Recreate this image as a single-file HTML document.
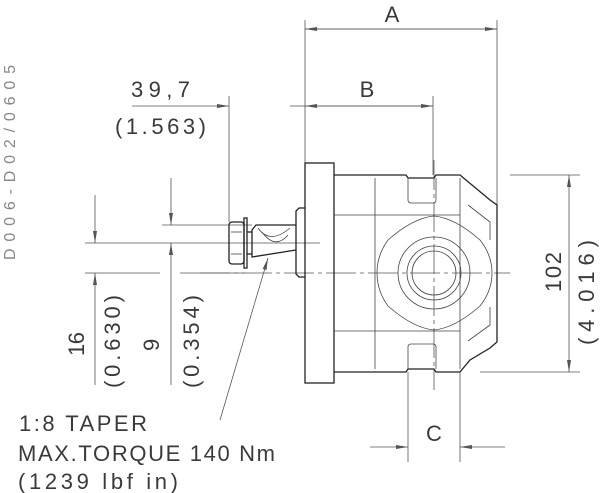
<!DOCTYPE html>
<html><head><meta charset="utf-8"><style>
html,body{margin:0;padding:0;background:#fff}
svg{display:block}
text{font-family:"Liberation Sans","DejaVu Sans",sans-serif;fill:#3a3a3a}
</style></head><body>
<svg width="600" height="493" viewBox="0 0 600 493" xmlns="http://www.w3.org/2000/svg">
<defs>
<marker id="ar" viewBox="0 0 12 6" refX="12" refY="3" markerWidth="12" markerHeight="6" orient="auto" markerUnits="userSpaceOnUse">
<path d="M0,1 L12,3 L0,5 Z" fill="#555"/>
</marker>
</defs>
<g stroke="#555" stroke-width="0.8" fill="none">
<line x1="305" y1="20" x2="305" y2="163"/>
<line x1="497" y1="20" x2="497" y2="205"/>
<line x1="433" y1="96" x2="433" y2="175"/>
<line x1="229" y1="96" x2="229" y2="222"/>
<line x1="305" y1="29" x2="497" y2="29" marker-end="url(#ar)"/>
<line x1="497" y1="29" x2="305" y2="29" marker-end="url(#ar)"/>
<line x1="305" y1="106" x2="433" y2="106" marker-end="url(#ar)"/>
<line x1="433" y1="106" x2="305" y2="106" marker-end="url(#ar)"/>
<line x1="132" y1="106" x2="229" y2="106" marker-end="url(#ar)"/>
<line x1="290" y1="106" x2="305" y2="106"/>
<line x1="510" y1="175" x2="580" y2="175"/>
<line x1="480" y1="372" x2="580" y2="372"/>
<line x1="569" y1="273" x2="569" y2="175" marker-end="url(#ar)"/>
<line x1="569" y1="273" x2="569" y2="372" marker-end="url(#ar)"/>
<line x1="408" y1="372" x2="408" y2="462"/>
<line x1="460" y1="372" x2="460" y2="462"/>
<line x1="370" y1="447" x2="408" y2="447" marker-end="url(#ar)"/>
<line x1="505" y1="447" x2="460" y2="447" marker-end="url(#ar)"/>
<line x1="85" y1="243" x2="320" y2="243"/>
<line x1="85" y1="273" x2="160" y2="273"/>
<line x1="180" y1="273" x2="245" y2="273"/>
<line x1="162" y1="225" x2="252" y2="225"/>
<line x1="95" y1="195" x2="95" y2="243" marker-end="url(#ar)"/>
<line x1="95" y1="385" x2="95" y2="273" marker-end="url(#ar)"/>
<line x1="171" y1="178" x2="171" y2="225" marker-end="url(#ar)"/>
<line x1="171" y1="385" x2="171" y2="243" marker-end="url(#ar)"/>
<line x1="220" y1="420" x2="268" y2="258" marker-end="url(#ar)"/>
<line x1="200" y1="273" x2="510" y2="273" stroke-dasharray="30 4 4 4"/>
<line x1="434" y1="160" x2="434" y2="390" stroke-dasharray="30 4 4 4"/>
</g>
<g stroke="#222" stroke-width="1.3" fill="none">
<rect x="305" y="163" width="29" height="220"/>
<path d="M334,175 L406,175 L408,178 L434,178 L436,175 L460,175 L490,200 L497,205 L497,342 L490,348 L470,360 L460,372 L436,372 L434,369 L408,369 L406,372 L334,372"/>
<path d="M305,208 L299,208 L296,211 L296,274 L299,277 L305,277"/>
<path d="M296,225 L256,225 L252,230 L252,257 L296,250"/>
<rect x="229" y="222" width="15" height="42" rx="3"/>
<rect x="244" y="218" width="3" height="50"/>
<line x1="247" y1="232" x2="252" y2="232"/>
<line x1="247" y1="254" x2="252" y2="254"/>
</g>
<g stroke="#444" stroke-width="0.8" fill="none">
<path d="M258,228 Q270,245 290,228"/>
<path d="M262,232 Q275,250 288,235"/>
<line x1="231" y1="232" x2="242" y2="232"/>
<line x1="231" y1="254" x2="242" y2="254"/>
<line x1="334" y1="215" x2="460" y2="215"/>
<line x1="334" y1="331" x2="460" y2="331"/>
<line x1="375" y1="178" x2="375" y2="369"/>
<line x1="460" y1="178" x2="460" y2="369"/>
<path d="M408,178 L408,200 Q408,203 411,203 L433,203 Q436,203 436,200 L436,178"/>
<path d="M408,369 L408,347 Q408,344 411,344 L433,344 Q436,344 436,347 L436,369"/>
<path d="M434,216 Q455,218 480,240 Q492,255 492,273 Q492,291 480,306 Q455,328 434,330 Q413,328 388,306 Q377,291 377,273 Q377,255 388,240 Q413,218 434,216 Z"/>
<circle cx="434" cy="273" r="36"/>
<circle cx="434" cy="273" r="27"/>
<circle cx="434" cy="273" r="22"/>
<path d="M468,205 L490,222 L490,240"/>
<path d="M468,341 L490,325 L490,307"/>
</g>
<g font-size="22">
<text x="392" y="22" text-anchor="middle">A</text>
<text x="367" y="97" text-anchor="middle">B</text>
<text x="131" y="97" textLength="59" lengthAdjust="spacing">39,7</text>
<text x="115" y="134" textLength="91" lengthAdjust="spacing">(1.563)</text>
<text x="434" y="441" text-anchor="middle">C</text>
<text transform="translate(561,292) rotate(-90)" textLength="40" lengthAdjust="spacing">102</text>
<text transform="translate(594,345) rotate(-90)" textLength="105" lengthAdjust="spacing">(4.016)</text>
<text transform="translate(84,356) rotate(-90)" textLength="24" lengthAdjust="spacing">16</text>
<text transform="translate(120,388) rotate(-90)" textLength="93" lengthAdjust="spacing">(0.630)</text>
<text transform="translate(159,351) rotate(-90)">9</text>
<text transform="translate(199,388) rotate(-90)" textLength="93" lengthAdjust="spacing">(0.354)</text>
<text x="19" y="431" textLength="128" lengthAdjust="spacing">1:8 TAPER</text>
<text x="18" y="461" textLength="257" lengthAdjust="spacing">MAX.TORQUE 140 Nm</text>
<text x="18" y="489" textLength="160" lengthAdjust="spacing">(1239 lbf in)</text>
<text transform="translate(15,260) rotate(-90)" font-size="16" textLength="195" lengthAdjust="spacing" style="fill:#888">D006-D02/0605</text>
</g>
</svg>
</body></html>
